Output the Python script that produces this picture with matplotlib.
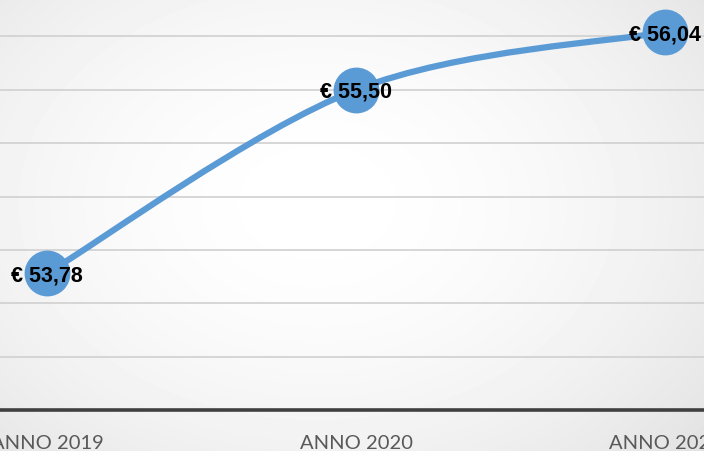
import numpy as np
import matplotlib
matplotlib.use("Agg")
import matplotlib.pyplot as plt
from matplotlib.path import Path
from matplotlib.patches import PathPatch

categories = ["ANNO 2019", "ANNO 2020", "ANNO 2021"]
values = [53.78, 55.50, 56.04]
value_labels = ["€ 53,78", "€ 55,50", "€ 56,04"]
yticks = [52.5, 53.0, 53.5, 54.0, 54.5, 55.0, 55.5, 56.0, 56.5]

W, H = 704, 452
fig = plt.figure(figsize=(W / 100, H / 100), dpi=100)

# radial gradient background
bg = fig.add_axes([0, 0, 1, 1], zorder=0)
yy, xx = np.mgrid[0:H, 0:W]
cx, cy = W * 0.45, H * 0.45
r = np.sqrt(((xx - cx) / (W * 0.75)) ** 2 + ((yy - cy) / (H * 0.85)) ** 2)
r = np.clip(r, 0, 1)
shade = 1.0 - 0.12 * r ** 1.8
bg.imshow(shade, cmap="gray", vmin=0, vmax=1, extent=[0, 1, 0, 1],
          aspect="auto", origin="upper", interpolation="bilinear")
bg.axis("off")

bottom = (H - 411) / H
top_px = -16
height = (411 - top_px) / H
ax = fig.add_axes([0, bottom, 1, height], zorder=1)
ax.patch.set_alpha(0)
x = np.arange(len(categories))
ax.set_xlim(-47 / 309, 2 + (W - 665) / 309)
ax.set_ylim(52.5, 56.5)

for t in yticks[1:]:
    ax.axhline(t, color="#d0d0d0", lw=1.2, zorder=1)
for s in ["top", "right", "left"]:
    ax.spines[s].set_visible(False)
ax.spines["bottom"].set_color("#404040")
ax.spines["bottom"].set_linewidth(2.6)
ax.set_yticks([])
ax.set_xticks(x)
ax.set_xticklabels(categories, fontsize=14.5, color="#595959", family="Lato")
ax.tick_params(axis="x", length=0, pad=17)

# smooth line (Excel-style Bezier through data points)
pts = np.column_stack([x, values]).astype(float)
ext = np.vstack([pts[0], pts, pts[-1]])
verts = [tuple(pts[0])]
codes = [Path.MOVETO]
for i in range(len(pts) - 1):
    p0, p1, p2, p3 = ext[i], ext[i + 1], ext[i + 2], ext[i + 3]
    c1 = p1 + (p2 - p0) / 6
    c2 = p2 - (p3 - p1) / 6
    verts += [tuple(c1), tuple(c2), tuple(p2)]
    codes += [Path.CURVE4] * 3
ax.add_patch(PathPatch(Path(verts, codes), fill=False, edgecolor="#5B9BD5",
                       lw=4.5, capstyle="round", zorder=2, clip_on=False))
ax.plot(x, values, "o", ms=32, color="#5B9BD5", mec="#5B9BD5", zorder=3,
        clip_on=False)
for xi, v, lab in zip(x, values, value_labels):
    ax.text(xi, v - 0.015, lab, ha="center", va="center", fontsize=15.5,
            fontweight="bold", family="Liberation Sans", color="black", zorder=4)

fig.savefig("out.png", dpi=100)
